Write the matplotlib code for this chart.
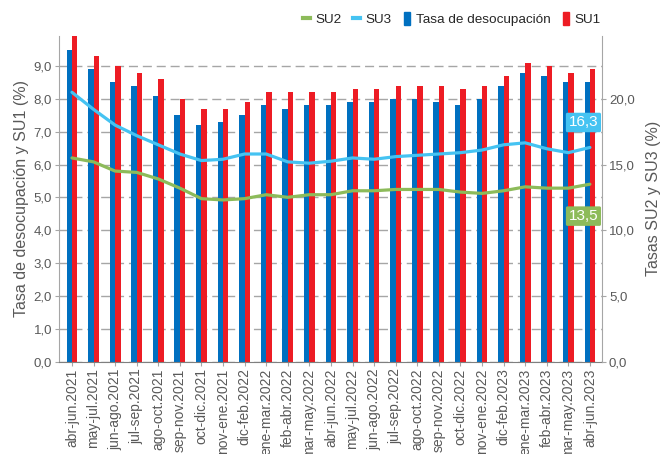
import matplotlib
matplotlib.use("Agg")
import matplotlib.pyplot as plt
import numpy as np
from matplotlib.lines import Line2D
from matplotlib.patches import Patch
from matplotlib.ticker import FuncFormatter, MultipleLocator

plt.rcParams['font.family'] = ['Liberation Sans', 'DejaVu Sans']

categories = ["abr-jun.2021", "may-jul.2021", "jun-ago.2021", "jul-sep.2021", "ago-oct.2021",
              "sep-nov.2021", "oct-dic.2021", "nov-ene.2021", "dic-feb.2022", "ene-mar.2022",
              "feb-abr.2022", "mar-may.2022", "abr-jun.2022", "may-jul.2022", "jun-ago.2022",
              "jul-sep.2022", "ago-oct.2022", "sep-nov.2022", "oct-dic.2022", "nov-ene.2022",
              "dic-feb.2023", "ene-mar.2023", "feb-abr.2023", "mar-may.2023", "abr-jun.2023"]

tasa = [9.5, 8.9, 8.5, 8.4, 8.1, 7.5, 7.2, 7.3, 7.5, 7.8, 7.7, 7.8, 7.8, 7.9,
        7.9, 8.0, 8.0, 7.9, 7.8, 8.0, 8.4, 8.8, 8.7, 8.5, 8.5]
su1 = [9.9, 9.3, 9.0, 8.8, 8.6, 8.0, 7.7, 7.7, 7.9, 8.2, 8.2, 8.2, 8.2, 8.3,
       8.3, 8.4, 8.4, 8.4, 8.3, 8.4, 8.7, 9.1, 9.0, 8.8, 8.9]
su2 = [15.5, 15.2, 14.5, 14.4, 13.9, 13.2, 12.4, 12.3, 12.4, 12.7, 12.5, 12.7, 12.7, 13.0,
       13.0, 13.1, 13.1, 13.1, 12.9, 12.8, 13.0, 13.3, 13.2, 13.2, 13.5]
su3 = [20.5, 19.2, 18.0, 17.2, 16.5, 15.8, 15.3, 15.4, 15.8, 15.8, 15.2, 15.1, 15.25, 15.5,
       15.4, 15.6, 15.7, 15.8, 15.9, 16.1, 16.5, 16.65, 16.2, 15.9, 16.3]

BLUE = "#0070C0"
RED = "#ED1C24"
GREEN = "#8DBB5A"
LBLUE = "#45C3F2"
GRID = "#A6A6A6"
TXT = "#595959"

fig = plt.figure(figsize=(6.63, 4.54), dpi=100)
ax = fig.add_axes([59/663, 1-361.5/454, (602-59)/663, (361.5-36)/454])
ax2 = ax.twinx()

x = np.arange(len(categories))
w = 0.25
ax.bar(x - w/2, tasa, width=w, color=BLUE, zorder=2)
ax.bar(x + w/2, su1, width=w, color=RED, zorder=2)

ax2.plot(x, su2, color=GREEN, lw=2.3, solid_joinstyle='round', solid_capstyle='round')
ax2.plot(x, su3, color=LBLUE, lw=2.3, solid_joinstyle='round', solid_capstyle='round')

ax.set_xlim(-0.6, len(categories) - 1 + 0.56)
ymax = 9.914
ax.set_ylim(0, ymax)
ax2.set_ylim(0, ymax * 2.5)

ax.yaxis.set_major_locator(MultipleLocator(1.0))
ax2.yaxis.set_major_locator(MultipleLocator(5.0))
fmt = FuncFormatter(lambda v, p: f"{v:.1f}".replace(".", ","))
ax.yaxis.set_major_formatter(fmt)
ax2.yaxis.set_major_formatter(fmt)

ax.set_axisbelow(True)
ax.yaxis.grid(True, color=GRID, linestyle=(0, (6.5, 3.5)), lw=1.0)

ax.set_xticks(x)
ax.set_xticklabels(categories, rotation=90, fontsize=10, color=TXT)
ax.tick_params(axis='x', length=3, color=GRID, pad=2)
ax.tick_params(axis='y', labelsize=9.5, labelcolor=TXT, length=3, color=GRID, pad=2)
ax2.tick_params(axis='y', labelsize=9.5, labelcolor=TXT, length=3, color=GRID, pad=2)

for a in (ax, ax2):
    a.spines['top'].set_visible(False)
ax.spines['right'].set_visible(False)
ax2.spines['left'].set_visible(False)
ax2.spines['bottom'].set_visible(False)
ax.spines['left'].set_color(GRID)
ax.spines['bottom'].set_color("#7F7F7F")
ax2.spines['right'].set_color(GRID)

ax.set_ylabel("Tasa de desocupación y SU1 (%)", fontsize=11.5, color=TXT, labelpad=3)
ax2.set_ylabel("Tasas SU2 y SU3 (%)", fontsize=11.5, color=TXT, labelpad=8)

ax2.text(23.7, 18.2, "16,3", color="white", fontsize=11, ha="center", va="center",
         bbox=dict(boxstyle="round,pad=0.18,rounding_size=0.1", fc=LBLUE, ec="none"), zorder=5)
ax2.text(23.7, 11.07, "13,5", color="white", fontsize=11, ha="center", va="center",
         bbox=dict(boxstyle="round,pad=0.18,rounding_size=0.1", fc=GREEN, ec="none"), zorder=5)

handles = [Line2D([], [], color=GREEN, lw=3),
           Line2D([], [], color=LBLUE, lw=3),
           Patch(color=BLUE), Patch(color=RED)]
labels = ["SU2", "SU3", "Tasa de desocupación", "SU1"]
fig.legend(handles, labels, loc="center right", bbox_to_anchor=(601/663, 1-19/454), ncol=4,
           frameon=False, fontsize=9.7, handlelength=0.5, handleheight=1.1,
           handletextpad=0.4, columnspacing=0.9, borderaxespad=0, borderpad=0,
           labelcolor="#262626")

fig.savefig("out.png", dpi=100)
